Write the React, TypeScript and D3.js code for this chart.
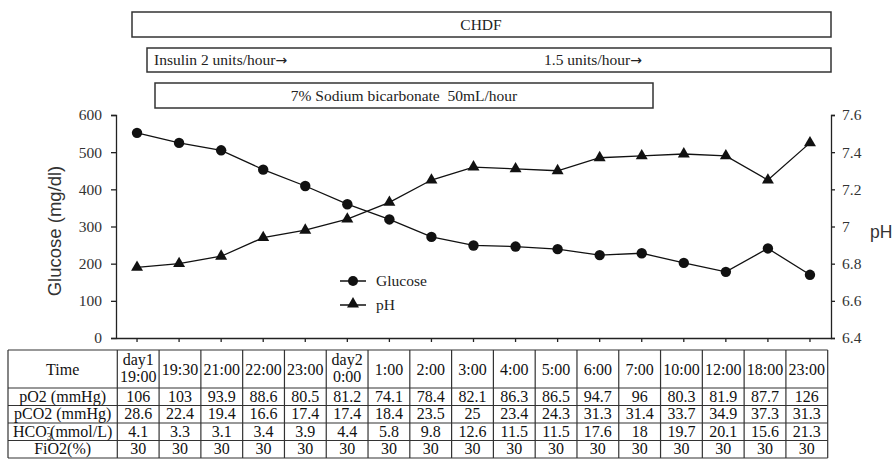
import React, { useEffect, useRef } from "react";
import * as d3 from "d3";

const times = [
  "day1|19:00", "19:30", "21:00", "22:00", "23:00", "day2|0:00", "1:00", "2:00", "3:00",
  "4:00", "5:00", "6:00", "7:00", "10:00", "12:00", "18:00", "23:00",
];
const glucose = [552, 525, 505, 453, 409, 360, 319, 272, 249, 246, 239, 223, 228, 202, 178, 241, 170];
const ph = [6.78, 6.8, 6.84, 6.94, 6.98, 7.04, 7.13, 7.25, 7.32, 7.31, 7.3, 7.37, 7.38, 7.39, 7.38, 7.25, 7.45];
const pO2 = [106, 103, 93.9, 88.6, 80.5, 81.2, 74.1, 78.4, 82.1, 86.3, 86.5, 94.7, 96, 80.3, 81.9, 87.7, 126];
const pCO2 = [28.6, 22.4, 19.4, 16.6, 17.4, 17.4, 18.4, 23.5, 25, 23.4, 24.3, 31.3, 31.4, 33.7, 34.9, 37.3, 31.3];
const hco3 = [4.1, 3.3, 3.1, 3.4, 3.9, 4.4, 5.8, 9.8, 12.6, 11.5, 11.5, 17.6, 18, 19.7, 20.1, 15.6, 21.3];
const fio2 = [30, 30, 30, 30, 30, 30, 30, 30, 30, 30, 30, 30, 30, 30, 30, 30, 30];
const glucoseTicks = [0, 100, 200, 300, 400, 500, 600];
const phTicks = [6.4, 6.6, 6.8, 7, 7.2, 7.4, 7.6];

const serif = "Liberation Serif";
const sans = "Liberation Sans";

const App = () => {
  const ref = useRef<SVGSVGElement>(null);
  const width = 893;
  const height = 462;

  useEffect(() => {
    const svg = d3.select(ref.current);
    svg.selectAll("*").remove();

    const left = 116;
    const right = 831;
    const top = 115;
    const bottom = 338;

    // time labels repeat (23:00 twice), so the band scale is keyed by column index
    const idx = times.map((_, i) => String(i));
    const x = d3.scaleBand().domain(idx).range([left, right]).padding(0);
    const cx = (i: number) => (x(String(i)) as number) + x.bandwidth() / 2;
    const yG = d3.scaleLinear().domain([0, 600]).range([bottom, top]);
    const yP = d3.scaleLinear().domain([6.4, 7.6]).range([bottom, top]);

    // treatment boxes
    const boxes = [
      { x0: 132, x1: 831, y0: 12, y1: 37 },
      { x0: 147, x1: 831, y0: 48, y1: 72 },
      { x0: 155, x1: 653, y0: 83, y1: 108 },
    ];
    svg.selectAll("rect.box")
      .data(boxes)
      .enter()
      .append("rect")
      .attr("x", d => d.x0)
      .attr("y", d => d.y0)
      .attr("width", d => d.x1 - d.x0)
      .attr("height", d => d.y1 - d.y0)
      .attr("fill", "none")
      .attr("stroke", "#333")
      .attr("stroke-width", 1.5);

    const boxText = (t: string, tx: number, ty: number, anchor: string, arrow = false) => {
      const el = svg.append("text")
        .attr("x", tx)
        .attr("y", ty)
        .attr("text-anchor", anchor)
        .attr("font-family", serif)
        .attr("font-size", 15.5)
        .attr("fill", "#222")
        .style("white-space", "pre");
      el.append("tspan").text(t);
      if (arrow) el.append("tspan").attr("font-family", "DejaVu Sans").attr("font-size", 14).text("→");
      return el;
    };
    boxText("CHDF", 481, 30, "middle");
    boxText("Insulin 2 units/hour", 154, 65, "start", true);
    boxText("1.5 units/hour", 544, 65, "start", true);
    boxText("7% Sodium bicarbonate  50mL/hour", 404, 101, "middle");

    // axes
    const gl = svg.append("g")
      .attr("transform", `translate(${left},0)`)
      .call(d3.axisLeft(yG).tickValues(glucoseTicks).tickSize(5).tickPadding(9));
    const gr = svg.append("g")
      .attr("transform", `translate(${right},0)`)
      .call(d3.axisRight(yP).tickValues(phTicks).tickSize(4).tickPadding(7).tickFormat(d => String(+d)));
    const gb = svg.append("g")
      .attr("transform", `translate(0,${bottom})`)
      .call(d3.axisBottom(x).tickFormat(() => "").tickSizeInner(4).tickSizeOuter(0));
    [gl, gr, gb].forEach(g => {
      g.selectAll("path, line").attr("stroke", "#222").attr("stroke-width", 1.3);
      g.selectAll("text").attr("font-family", serif).attr("font-size", 15.5).attr("fill", "#333");
    });

    svg.append("text")
      .attr("transform", "translate(61,231) rotate(-90)")
      .attr("text-anchor", "middle")
      .attr("font-family", sans)
      .attr("font-size", 18.5)
      .attr("fill", "#333")
      .text("Glucose (mg/dl)");
    svg.append("text")
      .attr("x", 870)
      .attr("y", 238)
      .attr("font-family", sans)
      .attr("font-size", 17.5)
      .attr("fill", "#333")
      .text("pH");

    // lines
    const lineG = d3.line<number>().x((_, i) => cx(i)).y(d => yG(d));
    const lineP = d3.line<number>().x((_, i) => cx(i)).y(d => yP(d));
    svg.append("path").attr("d", lineG(glucose)).attr("fill", "none").attr("stroke", "#111").attr("stroke-width", 1.3);
    svg.append("path").attr("d", lineP(ph)).attr("fill", "none").attr("stroke", "#111").attr("stroke-width", 1.3);

    svg.selectAll("circle.g")
      .data(glucose)
      .enter()
      .append("circle")
      .attr("cx", (_, i) => cx(i))
      .attr("cy", d => yG(d))
      .attr("r", 5.2)
      .attr("fill", "#111");

    const tri = d3.symbol(d3.symbolTriangle, 62);
    svg.selectAll("path.p")
      .data(ph)
      .enter()
      .append("path")
      .attr("d", tri())
      .attr("transform", (d, i) => `translate(${cx(i)},${yP(d)})`)
      .attr("fill", "#111");

    // legend
    const lg = svg.append("g");
    lg.append("line").attr("x1", 340).attr("x2", 366).attr("y1", 281).attr("y2", 281).attr("stroke", "#111").attr("stroke-width", 1.5);
    lg.append("circle").attr("cx", 353).attr("cy", 281).attr("r", 5).attr("fill", "#111");
    lg.append("line").attr("x1", 340).attr("x2", 366).attr("y1", 305).attr("y2", 305).attr("stroke", "#111").attr("stroke-width", 1.5);
    lg.append("path").attr("d", tri()).attr("transform", "translate(353,304)").attr("fill", "#111");
    lg.append("text").attr("x", 376).attr("y", 286).attr("font-family", serif).attr("font-size", 15.5).attr("fill", "#222").text("Glucose");
    lg.append("text").attr("x", 376).attr("y", 310).attr("font-family", serif).attr("font-size", 15.5).attr("fill", "#222").text("pH");

    // table
    const tLeft = 8;
    const tFirst = 117.3;
    const tRight = 827.7;
    const tx = d3.scaleBand().domain(idx).range([tFirst, tRight]).padding(0);
    const tmid = (i: number) => (tx(String(i)) as number) + tx.bandwidth() / 2;
    const rowEdges = [350, 388, 405.5, 423, 440.5, 458];
    const rows = [
      { label: "pO2 (mmHg)", values: pO2 },
      { label: "pCO2 (mmHg)", values: pCO2 },
      { label: "HCO3", values: hco3 },
      { label: "FiO2(%)", values: fio2 },
    ];
    const tg = svg.append("g").attr("font-family", serif).attr("font-size", 16).attr("fill", "#111");
    rowEdges.forEach(yy => {
      tg.append("line").attr("x1", tLeft).attr("x2", tRight).attr("y1", yy).attr("y2", yy).attr("stroke", "#333").attr("stroke-width", 1.2);
    });
    const colEdges = [tLeft, ...idx.map(k => tx(k) as number), tRight];
    colEdges.forEach(xx => {
      tg.append("line").attr("x1", xx).attr("x2", xx).attr("y1", rowEdges[0]).attr("y2", rowEdges[rowEdges.length - 1]).attr("stroke", "#333").attr("stroke-width", 1.2);
    });
    const firstMid = (tLeft + tFirst) / 2;
    tg.append("text").attr("x", firstMid).attr("y", 375).attr("text-anchor", "middle").text("Time");
    times.forEach((t, i) => {
      const mx = tmid(i);
      const parts = t.split("|");
      if (parts.length === 2) {
        tg.append("text").attr("x", mx).attr("y", 365).attr("text-anchor", "middle").text(parts[0]);
        tg.append("text").attr("x", mx).attr("y", 382).attr("text-anchor", "middle").text(parts[1]);
      } else {
        tg.append("text").attr("x", mx).attr("y", 375).attr("text-anchor", "middle").text(t);
      }
    });
    rows.forEach((r, ri) => {
      const by = rowEdges[ri + 2] - 4;
      if (r.label === "HCO3") {
        const lt = tg.append("text").attr("x", firstMid).attr("y", by).attr("text-anchor", "middle");
        lt.append("tspan").text("HCO");
        lt.append("tspan").attr("font-size", 10).attr("dy", 3).text("3");
        lt.append("tspan").attr("font-size", 10).attr("dx", -5).attr("dy", -10).text("-");
        lt.append("tspan").attr("dy", 7).text("(mmol/L)");
      } else {
        tg.append("text").attr("x", firstMid).attr("y", by).attr("text-anchor", "middle").text(r.label);
      }
      r.values.forEach((v, i) => {
        tg.append("text").attr("x", tmid(i)).attr("y", by).attr("text-anchor", "middle").text(String(v));
      });
    });
  }, []);

  return (
    <svg
      ref={ref}
      width={width}
      height={height}
      style={{ position: "absolute", left: 0, top: 0, background: "#fff" }}
    />
  );
};

export default App;
